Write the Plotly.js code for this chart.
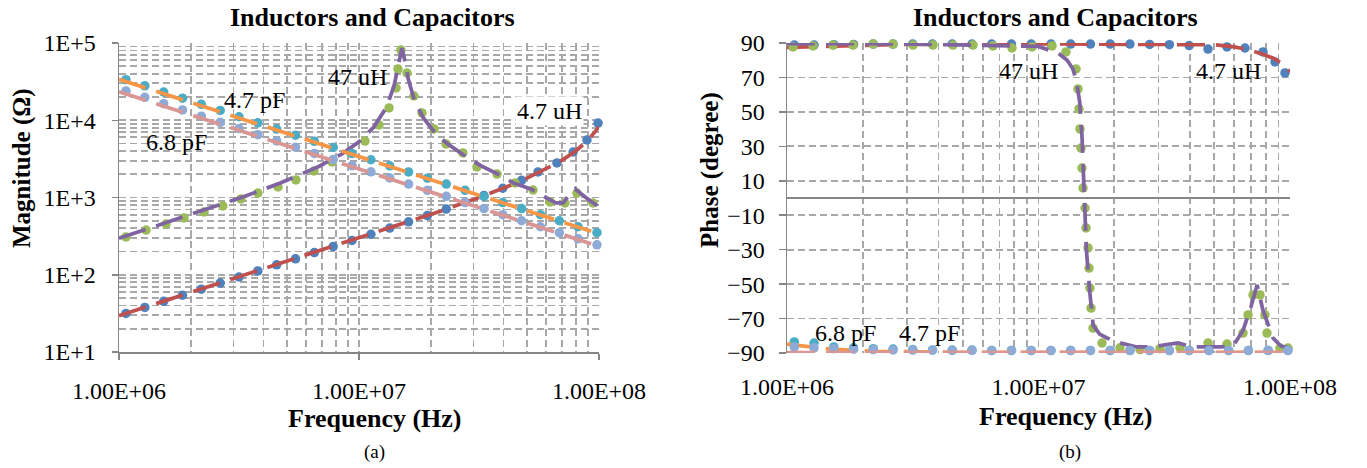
<!DOCTYPE html>
<html><head><meta charset="utf-8">
<script src="https://cdn.plot.ly/plotly-3.0.1.min.js"></script>
<style>html,body{margin:0;padding:0;background:#fff}#chart{width:1367px;height:468px}</style>
</head><body><div id="chart"></div>
<script>
// ---------------- DATA ----------------
// common measurement frequency grid (Hz) for capacitors
const fGrid = [1.069e6, 1.281e6, 1.535e6, 1.839e6, 2.203e6, 2.640e6, 3.162e6, 3.789e6, 4.539e6, 5.439e6, 6.516e6, 7.807e6, 9.354e6, 1.121e7, 1.343e7, 1.609e7, 1.928e7, 2.310e7, 2.767e7, 3.315e7, 3.972e7, 4.759e7, 5.702e7, 6.832e7, 8.185e7, 9.806e7];

// 4.7 pF measured
const mag47pF = [33500, 27900, 23200, 19300, 16100, 13400, 11100, 9250, 7700, 6400, 5330, 4440, 3700, 3080, 2570, 2140, 1780, 1490, 1240, 1030, 860, 720, 600, 500, 418, 350];
const ph47pF = [-83.6, -84.2, -86.5, -87.0, -87.5, -87.7, -88.0, -88.2, -88.3, -88.3, -88.5, -88.5, -88.5, -88.5, -88.5, -88.5, -88.5, -88.5, -88.5, -88.5, -88.5, -88.5, -88.5, -88.5, -88.5, -88.5];
// 6.8 pF measured
const mag68pF = [24000, 19800, 16400, 13600, 11300, 9400, 7800, 6500, 5400, 4480, 3720, 3100, 2580, 2150, 1790, 1490, 1240, 1035, 862, 720, 600, 500, 418, 350, 292, 244];
const ph68pF = [-86.5, -87.0, -87.5, -87.8, -88.0, -88.2, -88.3, -88.4, -88.5, -88.5, -88.6, -88.6, -88.6, -88.6, -88.6, -88.6, -88.6, -88.6, -88.6, -88.6, -88.6, -88.6, -88.6, -88.6, -88.6, -88.6];

// capacitor models
const fCapModel = [1e6, 1.5e6, 2.2e6, 3.3e6, 4.7e6, 6.8e6, 1e7, 1.5e7, 2.2e7, 3.3e7, 4.7e7, 6.8e7, 1e8];
const mag47pFModel = [33863, 22575, 15392, 10262, 7205, 4980, 3386, 2258, 1539, 1026, 720.5, 498.0, 338.6];
const ph47pFModel = [-84.8, -87.8, -89.0, -89.5, -89.6, -89.7, -89.7, -89.7, -89.7, -89.7, -89.7, -89.7, -89.7];
const mag68pFModel = [23405, 15603, 10639, 7092, 4980, 3442, 2341, 1560, 1064, 709.2, 498.0, 344.2, 234.1];
const ph68pFModel = [-89.8, -89.8, -89.8, -89.8, -89.8, -89.8, -89.8, -89.8, -89.8, -89.8, -89.8, -89.8, -89.8];

// 4.7 uH measured
const f47uHMag = [1.069e6, 1.281e6, 1.535e6, 1.839e6, 2.203e6, 2.640e6, 3.162e6, 3.789e6, 4.539e6, 5.439e6, 6.516e6, 7.807e6, 9.354e6, 1.121e7, 1.343e7, 1.609e7, 1.928e7, 2.310e7, 2.767e7, 3.315e7, 3.972e7, 4.759e7, 5.57e7, 6.68e7, 7.8e7, 8.91e7, 9.91e7];
const mag47uH = [31.6, 37.8, 45.3, 54.3, 65.1, 78.0, 93.5, 112, 134.5, 161, 193.5, 232, 278, 334, 402, 484, 584, 709, 863, 1060, 1317, 1668, 2140, 2800, 3880, 5550, 9200];
const f47uHPh = [1.069e6, 1.281e6, 1.535e6, 1.839e6, 2.203e6, 2.640e6, 3.162e6, 3.789e6, 4.539e6, 5.439e6, 6.516e6, 7.807e6, 9.354e6, 1.121e7, 1.343e7, 1.609e7, 1.928e7, 2.310e7, 2.767e7, 3.315e7, 3.972e7, 4.721e7, 5.617e7, 6.624e7, 7.809e7, 8.716e7, 9.55e7, 1.019e8];
const ph47uH = [88.8, 88.8, 89.0, 89.2, 89.4, 89.4, 89.4, 89.4, 89.4, 89.4, 89.4, 89.4, 89.4, 89.4, 89.4, 89.4, 89.4, 89.4, 89.2, 89.0, 88.5, 86.5, 87.7, 87.1, 84.8, 79.0, 72.6, 65.6];
// 4.7 uH model
const f47uHModel = [1e6, 1.5e6, 2.2e6, 3.3e6, 4.7e6, 6.8e6, 1e7, 1.5e7, 2.2e7, 3.3e7, 4.7e7, 6.8e7, 8e7, 9e7, 1e8];
const mag47uHModel = [29.5, 44.3, 65.0, 97.5, 139.0, 201.4, 297.4, 449.5, 670.5, 1048, 1617, 2852, 4001, 5518, 8203];
const f47uHPhModel = [1e6, 1.5e6, 3e6, 1e7, 3e7, 5e7, 6e7, 6.93e7, 7.8e7, 8.55e7, 9.2e7, 9.73e7, 1e8];
const ph47uHModel = [87.5, 88.3, 89.2, 89.5, 89.5, 89.0, 87.8, 85.9, 83.5, 81.3, 78.5, 75.5, 73.2];

// 47 uH measured
const f47uHHMag = [1.069e6, 1.296e6, 1.570e6, 1.866e6, 2.26e6, 2.71e6, 3.22e6, 3.79e6, 4.60e6, 5.46e6, 6.49e6, 7.72e6, 9.17e6, 1.059e7, 1.211e7, 1.334e7, 1.427e7, 1.454e7, 1.496e7, 1.585e7, 1.694e7, 1.830e7, 2.054e7, 2.304e7, 2.71e7, 3.10e7, 3.76e7, 4.47e7, 5.31e7, 6.25e7, 7.21e7, 8.09e7, 9.44e7];
const mag47uHH = [308, 379, 454, 543, 649, 776, 957, 1143, 1367, 1686, 2204, 2884, 3883, 5383, 8690, 14420, 26140, 46000, 81130, 40900, 20600, 12420, 7710, 4930, 3770, 2483, 2013, 1541, 1250, 875, 849, 1143, 849];
const f47uHHPh = [1.057e6, 1.269e6, 1.524e6, 1.830e6, 2.198e6, 2.640e6, 3.170e6, 3.806e6, 4.571e6, 5.490e6, 6.592e6, 7.846e6, 9.424e6, 1.132e7, 1.286e7, 1.410e7, 1.436e7, 1.449e7, 1.462e7, 1.476e7, 1.489e7, 1.503e7, 1.531e7, 1.545e7, 1.574e7, 1.588e7, 1.602e7, 1.617e7, 1.647e7, 1.789e7, 2.109e7, 2.533e7, 3.041e7, 3.652e7, 4.721e7, 5.617e7, 6.504e7, 6.81e7, 7.13e7, 7.60e7, 7.95e7, 8.10e7, 9.12e7, 9.82e7];
const ph47uHH = [87.7, 88.3, 88.8, 88.8, 89.4, 89.4, 88.8, 88.8, 88.8, 88.8, 88.3, 87.1, 87.7, 88.3, 84.8, 74.9, 63.3, 51.7, 40.1, 29.0, 17.4, 5.8, -5.8, -17.4, -29.0, -40.7, -52.3, -63.9, -75.5, -84.2, -87.0, -88.0, -87.5, -87.0, -84.2, -84.8, -78.4, -67.9, -56.3, -56.3, -67.9, -78.4, -87.1, -87.1];
// 47 uH model
const f47uHHModel = [1e6, 1.5e6, 2.2e6, 3.3e6, 4.7e6, 6.8e6, 8.5e6, 1e7, 1.15e7, 1.3e7, 1.4e7, 1.45e7, 1.48e7, 1.51e7, 1.55e7, 1.6e7, 1.7e7, 1.85e7, 2.05e7, 2.3e7, 2.7e7, 3.2e7, 3.8e7, 4.4e7, 5.2e7, 6e7, 6.6e7, 7.1e7, 7.6e7, 7.95e7, 8.75e7, 1e8];
const mag47uHHModel = [296.6, 447.4, 663.8, 1023, 1537, 2519, 3674, 5260, 8086, 14620, 27860, 46320, 67970, 86000, 60530, 35150, 18330, 10820, 7181, 5145, 3629, 2600, 2000, 1542, 1290, 1000, 849, 849, 1143, 1289, 1014, 753];
const f47uHHPhModel = [1e6, 3e6, 1e7, 1.2e7, 1.3e7, 1.37e7, 1.42e7, 1.46e7, 1.49e7, 1.52e7, 1.55e7, 1.6e7, 1.65e7, 1.75e7, 1.87e7, 2.1e7, 2.46e7, 2.78e7, 3.2e7, 3.59e7, 4.08e7, 5.37e7, 6.0e7, 6.5e7, 7.0e7, 7.4e7, 7.8e7, 8.56e7, 9.2e7, 1e8];
const ph47uHHModel = [89.7, 89.5, 88.0, 84.0, 80.0, 75.0, 67.0, 55.0, 35.0, -3.0, -30.0, -55.0, -74.0, -79.0, -81.3, -84.0, -86.5, -86.5, -85.5, -84.2, -86.5, -86.5, -85.0, -77.0, -63.0, -50.5, -65.0, -81.3, -86.0, -87.0];

// tick labels and texts
const magTickVals = [10, 100, 1000, 10000, 100000];
const magTickText = ['1E+1', '1E+2', '1E+3', '1E+4', '1E+5'];
const freqTickVals = [1e6, 1e7, 1e8];
const freqTickText = ['1.00E+06', '1.00E+07', '1.00E+08'];
const phaseTickVals = [-90, -70, -50, -30, -10, 10, 30, 50, 70, 90];
const chartTitle = 'Inductors and Capacitors';

// ---------------- STYLE ----------------
const W = 1367, H = 468;
const FONT = 'Liberation Serif, Times New Roman, serif';
const GRID = '#a8a8a8';
const AXIS = '#868686';
const GDASH = '7px,4px';
const LDASH = '28px,11px';
const MS = 9.5, LW = 3.75;
const C = {blue:'#4f81bd', red:'#c0504d', green:'#9bbb59', purple:'#8064a2', aqua:'#4bacc6', orange:'#f79646', lblue:'#8eaad6', pink:'#d99694'};
const px = x => x / W, py = y => 1 - y / H;
function minorLog(d0, d1) { const v = []; for (let e = d0; e < d1; e++) for (let m = 2; m <= 9; m++) v.push(m * Math.pow(10, e)); return v; }

function mk(x, y, color, xa, ya) { return {x, y, xaxis: xa, yaxis: ya, mode: 'markers', type: 'scatter', cliponaxis: false, marker: {size: MS, color}, hoverinfo: 'skip'}; }
function ln(x, y, color, xa, ya) { return {x, y, xaxis: xa, yaxis: ya, mode: 'lines', type: 'scatter', cliponaxis: false, line: {color, width: LW, dash: LDASH}, hoverinfo: 'skip'}; }

const traces = [
  mk(f47uHMag, mag47uH, C.blue, 'x', 'y'),
  ln(f47uHModel, mag47uHModel, C.red, 'x', 'y'),
  mk(f47uHHMag, mag47uHH, C.green, 'x', 'y'),
  ln(f47uHHModel, mag47uHHModel, C.purple, 'x', 'y'),
  mk(fGrid, mag47pF, C.aqua, 'x', 'y'),
  ln(fCapModel, mag47pFModel, C.orange, 'x', 'y'),
  mk(fGrid, mag68pF, C.lblue, 'x', 'y'),
  ln(fCapModel, mag68pFModel, C.pink, 'x', 'y'),

  mk(f47uHPh, ph47uH, C.blue, 'x2', 'y2'),
  ln(f47uHPhModel, ph47uHModel, C.red, 'x2', 'y2'),
  mk(f47uHHPh, ph47uHH, C.green, 'x2', 'y2'),
  ln(f47uHHPhModel, ph47uHHModel, C.purple, 'x2', 'y2'),
  mk(fGrid, ph47pF, C.aqua, 'x2', 'y2'),
  ln(fCapModel, ph47pFModel, C.orange, 'x2', 'y2'),
  mk(fGrid, ph68pF, C.lblue, 'x2', 'y2'),
  ln(fCapModel, ph68pFModel, C.pink, 'x2', 'y2')
];

const tickFont = {family: FONT, size: 24, color: '#000'};
const gridCommon = {showgrid: true, gridcolor: GRID, griddash: GDASH, gridwidth: 1.8};

const layout = {
  width: W, height: H,
  margin: {l: 0, r: 0, t: 0, b: 0},
  paper_bgcolor: '#fff', plot_bgcolor: '#fff',
  showlegend: false,
  font: {family: FONT, color: '#000'},
  xaxis: Object.assign({
    type: 'log', domain: [px(119), px(599)], range: [6, 8], anchor: 'y',
    tickmode: 'array', tickvals: freqTickVals, ticktext: freqTickText,
    minor: Object.assign({tickmode: 'array', tickvals: minorLog(6, 8)}, gridCommon),
    showline: true, linecolor: AXIS, linewidth: 1.5, zeroline: false,
    ticks: 'outside', ticklen: 6, tickwidth: 1.5, tickcolor: AXIS,
    tickfont: tickFont, ticklabelstandoff: 11
  }, gridCommon),
  yaxis: Object.assign({
    type: 'log', domain: [py(352), py(43)], range: [1, 5], anchor: 'x',
    tickmode: 'array', tickvals: magTickVals, ticktext: magTickText,
    minor: Object.assign({tickmode: 'array', tickvals: minorLog(1, 5)}, gridCommon),
    showline: true, linecolor: AXIS, linewidth: 1.5, zeroline: false,
    ticks: 'outside', ticklen: 6, tickwidth: 1.5, tickcolor: AXIS,
    tickfont: tickFont, ticklabelstandoff: 11
  }, gridCommon),
  xaxis2: Object.assign({
    type: 'log', domain: [px(787), px(1290)], range: [6, 8], anchor: 'y2',
    tickmode: 'array', tickvals: freqTickVals, ticktext: freqTickText,
    minor: Object.assign({tickmode: 'array', tickvals: minorLog(6, 8)}, gridCommon),
    showline: false, zeroline: false, ticks: '',
    tickfont: tickFont, ticklabelstandoff: 17
  }, gridCommon),
  yaxis2: Object.assign({
    type: 'linear', domain: [py(353), py(43)], range: [-90, 90], anchor: 'x2',
    tickmode: 'array', tickvals: phaseTickVals,
    showline: true, linecolor: AXIS, linewidth: 1.5,
    zeroline: true, zerolinecolor: AXIS, zerolinewidth: 1.5,
    ticks: 'outside', ticklen: 7, tickwidth: 1.5, tickcolor: AXIS,
    tickfont: tickFont, ticklabelstandoff: 9
  }, gridCommon),
  annotations: []
};

function ann(text, x, y, size, opts) {
  layout.annotations.push(Object.assign({text, x: px(x), y: py(y), xref: 'paper', yref: 'paper', xanchor: 'center', yanchor: 'middle', showarrow: false, font: {family: FONT, size, color: '#000'}}, opts || {}));
}
// chart titles
ann('<b>' + chartTitle + '</b>', 373, 18, 26);
ann('<b>' + chartTitle + '</b>', 1055, 18, 26);
// axis titles
ann('<b>Frequency (Hz)</b>', 375, 418, 26);
ann('<b>Frequency (Hz)</b>', 1066, 416, 26);
ann('<b>Magnitude (Ω)</b>', 22, 168, 25, {textangle: -90});
ann('<b>Phase (degree)</b>', 710, 170, 25, {textangle: -90});
// series labels
ann('4.7 pF', 254, 100, 24);
ann('6.8 pF', 177, 142, 24);
ann('47 uH', 358, 77, 24);
ann('4.7 uH', 549, 111, 24, {bgcolor: '#fff'});
ann('47 uH', 1028, 71, 24);
ann('4.7 uH', 1228, 71, 24);
ann('6.8 pF', 846, 333, 24);
ann('4.7 pF', 930, 333, 24);
// subfigure labels
ann('(a)', 374, 452, 19);
ann('(b)', 1070, 452, 19);

Plotly.newPlot('chart', traces, layout, {staticPlot: true, displayModeBar: false});
</script></body></html>
